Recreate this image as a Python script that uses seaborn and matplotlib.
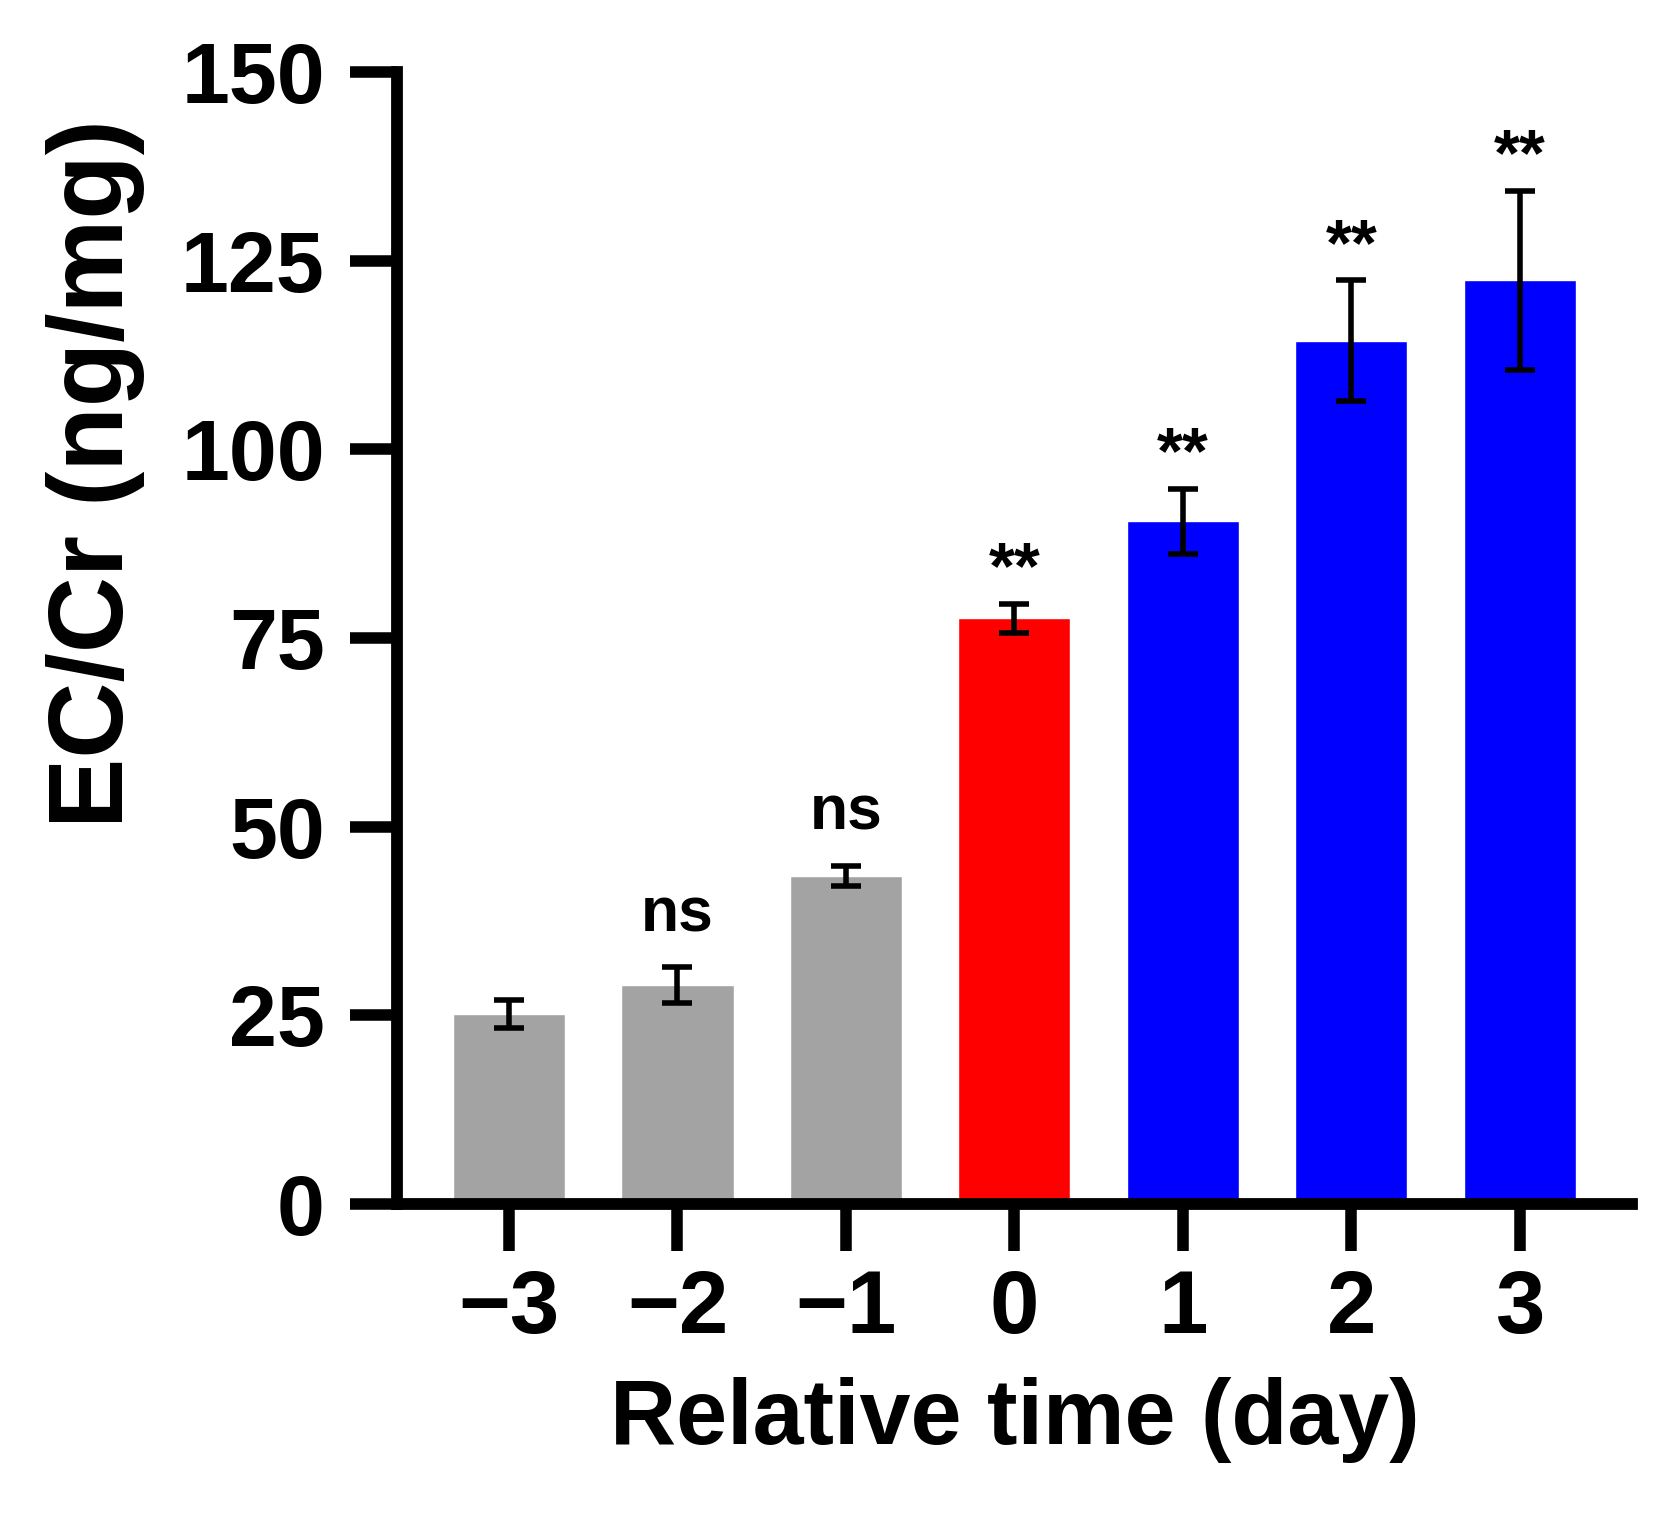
import numpy as np
import pandas as pd
import matplotlib
matplotlib.use("Agg")
import matplotlib.pyplot as plt
import seaborn as sns

# Values
days = ["\u22123", "\u22122", "\u22121", "0", "1", "2", "3"]
means = [25.2, 29.0, 43.5, 77.6, 90.5, 114.4, 122.4]
errors = [1.9, 2.35, 1.35, 1.95, 4.3, 8.0, 11.9]
marks = ["", "ns", "ns", "**", "**", "**", "**"]
bar_colors = ["#a3a3a3", "#a3a3a3", "#a3a3a3", "#ff0000", "#0000ff", "#0000ff", "#0000ff"]

sns.set_style("ticks")
plt.rcParams["font.family"] = ["Liberation Sans", "DejaVu Sans"]
plt.rcParams["font.weight"] = "bold"
plt.rcParams["text.color"] = "black"
plt.rcParams["axes.labelcolor"] = "black"
plt.rcParams["xtick.color"] = "black"
plt.rcParams["ytick.color"] = "black"

df = pd.DataFrame({"day": days, "value": means})

fig = plt.figure(figsize=(16.75, 15.17), dpi=100)
ax = fig.add_axes([0.2370, 0.2063, 0.9743 - 0.2370, 0.9525 - 0.2063])

sns.barplot(data=df, x="day", y="value", hue="day", palette=bar_colors,
            order=days, hue_order=days, width=0.665, saturation=1,
            legend=False, errorbar=None, ax=ax)

x = np.arange(len(days))
ax.errorbar(x, means, yerr=errors, fmt="none", ecolor="black",
            elinewidth=4, capsize=11, capthick=4, zorder=5)

# significance marks above the error bars
for xi, m, e, t in zip(x, means, errors, marks):
    if not t:
        continue
    if t == "ns":
        ax.annotate(t, (xi, m + e), xytext=(0, 26), textcoords="offset points",
                    ha="center", va="baseline", fontsize=45, fontweight="bold",
                    color="black")
    else:
        ax.annotate(t, (xi, m + e), xytext=(0, 11), textcoords="offset points",
                    ha="center", va="baseline", fontsize=48, fontweight="bold",
                    color="black")

ax.set_ylim(0, 150)
ax.set_xlim(-0.665, 6.665)
ax.set_yticks([0, 25, 50, 75, 100, 125, 150])

for side in ["top", "right"]:
    ax.spines[side].set_visible(False)
for side in ["left", "bottom"]:
    ax.spines[side].set_linewidth(8.5)
    ax.spines[side].set_color("black")

ax.tick_params(axis="both", length=34, width=8.3, color="black", labelcolor="black")
ax.tick_params(axis="y", labelsize=62, pad=18)
ax.tick_params(axis="x", labelsize=64, pad=12)
for lab in ax.get_xticklabels() + ax.get_yticklabels():
    lab.set_fontweight("bold")

ax.set_xlabel("Relative time (day)", fontsize=66, fontweight="bold", labelpad=18)
ax.set_ylabel("EC/Cr (ng/mg)", fontsize=76, fontweight="bold")
ax.yaxis.set_label_coords(-0.204, 0.645)

fig.savefig("out.png", dpi=100)
